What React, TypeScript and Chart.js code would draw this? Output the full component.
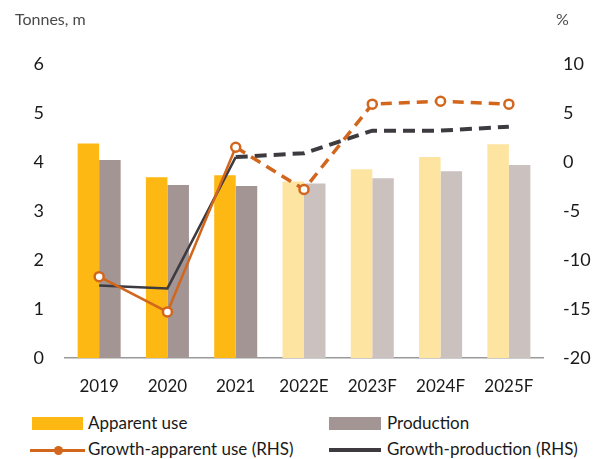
import React, { useEffect, useRef } from "react";
import { Chart, registerables } from "chart.js";

Chart.register(...registerables);

const categories = ["2019", "2020", "2021", "2022E", "2023F", "2024F", "2025F"];
const apparentUse = [4.38, 3.69, 3.73, 3.6, 3.85, 4.1, 4.36];
const production = [4.04, 3.53, 3.51, 3.56, 3.67, 3.81, 3.94];
const growthApparent = [-11.7, -15.3, 1.5, -2.8, 5.9, 6.2, 5.9];
const growthProduction = [-12.6, -12.9, 0.5, 0.9, 3.2, 3.2, 3.6];
const leftTicks = [0, 6, 1];
const rightTicks = [-20, 10, 5];
const firstForecastIndex = 3;

const GOLD = "#FDB813";
const GOLD_LIGHT = "#FEE4A1";
const PROD = "#A39593";
const PROD_LIGHT = "#CBC1BF";
const ORANGE = "#D2661C";
const DARK = "#3E3B40";
const FONT = "Lato, 'Open Sans', 'DejaVu Sans', sans-serif";

export default function App() {
  const ref = useRef<HTMLCanvasElement | null>(null);

  useEffect(() => {
    if (!ref.current) return;
    const dashedFrom = firstForecastIndex - 1;
    const chart = new Chart(ref.current, {
      data: {
        labels: categories,
        datasets: [
          {
            type: "line",
            label: "Growth-apparent use (RHS)",
            data: growthApparent,
            yAxisID: "y1",
            borderColor: ORANGE,
            borderWidth: 2.5,
            pointRadius: 4.5,
            pointBorderWidth: 2.5,
            pointBackgroundColor: "#ffffff",
            pointBorderColor: ORANGE,
            tension: 0,
            order: 0,
            segment: {
              borderDash: (ctx: any) => (ctx.p0DataIndex >= dashedFrom ? [11, 7] : undefined),
              borderWidth: (ctx: any) => (ctx.p0DataIndex >= dashedFrom ? 3.5 : 2.5),
            },
          } as any,
          {
            type: "line",
            label: "Growth-production (RHS)",
            data: growthProduction,
            yAxisID: "y1",
            borderColor: DARK,
            borderWidth: 2.5,
            pointRadius: 0,
            tension: 0,
            order: 1,
            segment: {
              borderDash: (ctx: any) => (ctx.p0DataIndex >= dashedFrom ? [12, 7] : undefined),
              borderWidth: (ctx: any) => (ctx.p0DataIndex >= dashedFrom ? 4 : 2.5),
            },
          } as any,
          {
            type: "bar",
            label: "Apparent use",
            data: apparentUse,
            yAxisID: "y",
            backgroundColor: categories.map((_, i) => (i >= firstForecastIndex ? GOLD_LIGHT : GOLD)),
            barPercentage: 1,
            categoryPercentage: 0.63,
            order: 2,
          },
          {
            type: "bar",
            label: "Production",
            data: production,
            yAxisID: "y",
            backgroundColor: categories.map((_, i) => (i >= firstForecastIndex ? PROD_LIGHT : PROD)),
            barPercentage: 1,
            categoryPercentage: 0.63,
            order: 2,
          },
        ],
      },
      options: {
        animation: false,
        responsive: false,
        maintainAspectRatio: false,
        layout: { padding: { top: 64, left: 0, right: 0, bottom: 0 } },
        plugins: { legend: { display: false }, tooltip: { enabled: false } },
        scales: {
          x: {
            grid: { display: false, drawTicks: false },
            border: { display: true, color: "#9a9a9a", width: 1.5 },
            ticks: { font: { family: FONT, size: 17 }, color: "#1a1a1a", padding: 18 },
            afterFit: (s: any) => {
              s.height = 42;
            },
          },
          y: {
            position: "left",
            min: leftTicks[0],
            max: leftTicks[1],
            ticks: { stepSize: leftTicks[2], font: { family: FONT, size: 18 }, color: "#1a1a1a", padding: 21 },
            grid: { display: false, drawTicks: false },
            border: { display: false },
            afterFit: (s: any) => {
              s.width = 65;
            },
          },
          y1: {
            position: "right",
            min: rightTicks[0],
            max: rightTicks[1],
            ticks: {
              stepSize: rightTicks[2],
              font: { family: FONT, size: 18 },
              color: "#1a1a1a",
              crossAlign: "near",
              padding: 20,
            },
            grid: { display: false, drawTicks: false },
            border: { display: false },
            afterFit: (s: any) => {
              s.width = 65;
            },
          },
        },
      },
    });
    return () => chart.destroy();
  }, []);

  const text: React.CSSProperties = {
    position: "absolute",
    fontFamily: FONT,
    fontSize: 17,
    color: "#1a1a1a",
    whiteSpace: "nowrap",
    lineHeight: "20px",
  };

  return (
    <div style={{ position: "fixed", left: 0, top: 0, width: 608, height: 459, background: "#fff", overflow: "hidden" }}>
      <canvas ref={ref} width={608} height={400} style={{ position: "absolute", left: 0, top: 0 }} />
      <div style={{ ...text, left: 15, top: 9, fontSize: 16, color: "#4a4a4a" }}>Tonnes, m</div>
      <div style={{ ...text, left: 556, top: 9, fontSize: 16, color: "#4a4a4a" }}>%</div>

      <div style={{ position: "absolute", left: 32, top: 417, width: 51, height: 13, background: GOLD }} />
      <div style={{ ...text, left: 88, top: 413 }}>Apparent use</div>
      <div style={{ position: "absolute", left: 329, top: 417, width: 52, height: 13, background: PROD }} />
      <div style={{ ...text, left: 387, top: 413 }}>Production</div>

      <div style={{ position: "absolute", left: 30, top: 448.5, width: 55, height: 3, background: ORANGE }} />
      <div
        style={{
          position: "absolute",
          left: 53.5,
          top: 445.5,
          width: 9,
          height: 9,
          borderRadius: "50%",
          background: ORANGE,
        }}
      />
      <div style={{ ...text, left: 88, top: 439 }}>Growth-apparent use (RHS)</div>
      <div style={{ position: "absolute", left: 329, top: 448, width: 52, height: 4, background: DARK }} />
      <div style={{ ...text, left: 387, top: 439 }}>Growth-production (RHS)</div>
    </div>
  );
}
